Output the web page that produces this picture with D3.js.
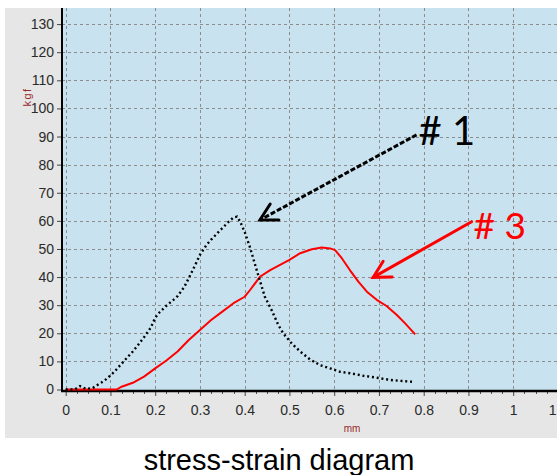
<!DOCTYPE html>
<html>
<head>
<meta charset="utf-8">
<script src="https://cdn.jsdelivr.net/npm/d3@7/dist/d3.min.js"></script>
<style>
  html, body { margin: 0; padding: 0; background: #ffffff; }
  svg { display: block; }
</style>
</head>
<body>
<div id="chart"></div>
<script>
// ---------- data ----------
const xTickValues = [0, 0.1, 0.2, 0.3, 0.4, 0.5, 0.6, 0.7, 0.8, 0.9, 1, 1.1];
const xTickLabels = ["0", "0.1", "0.2", "0.3", "0.4", "0.5", "0.6", "0.7", "0.8", "0.9", "1", "1.1"];
const yTickValues = [0, 10, 20, 30, 40, 50, 60, 70, 80, 90, 100, 110, 120, 130];
const yTickLabels = ["0", "10", "20", "30", "40", "50", "60", "70", "80", "90", "100", "110", "120", "130"];

// specimen #1 (black, dotted): strain (mm) and load (kgf)
const s1Strain = [0, 0.02, 0.032, 0.045, 0.06, 0.07, 0.08, 0.09, 0.1, 0.11, 0.125, 0.14, 0.15, 0.165, 0.175, 0.19, 0.2, 0.21, 0.225, 0.24, 0.25, 0.265, 0.275, 0.29, 0.3, 0.315, 0.325, 0.34, 0.35, 0.365, 0.375, 0.383, 0.39, 0.401, 0.412, 0.423, 0.434, 0.445, 0.46, 0.475, 0.486, 0.505, 0.524, 0.546, 0.568, 0.591, 0.613, 0.635, 0.665, 0.695, 0.725, 0.754, 0.777];
const s1Load   = [0, 0, 1.2, 0.2, 0.5, 1.5, 2.5, 3.6, 5, 6.5, 9.2, 11.8, 13.5, 16.5, 18.6, 22, 25.5, 27.5, 29.8, 31.8, 33.2, 36.5, 39.6, 44.5, 47.9, 51.5, 53.3, 55.8, 57.4, 59.8, 61.2, 61.5, 59.7, 55.6, 50.5, 44.5, 38.7, 33, 28.3, 23, 20, 16.4, 13.5, 10.7, 8.7, 7.5, 6.3, 5.8, 4.9, 4.2, 3.4, 3, 2.7];

// specimen #3 (red, solid)
const s3Strain = [0, 0.05, 0.114, 0.125, 0.15, 0.175, 0.2, 0.225, 0.25, 0.275, 0.3, 0.325, 0.35, 0.375, 0.4, 0.412, 0.434, 0.457, 0.479, 0.5, 0.524, 0.55, 0.572, 0.591, 0.602, 0.617, 0.635, 0.654, 0.673, 0.695, 0.717, 0.74, 0.758, 0.781];
const s3Load   = [0, 0, 0, 1, 2.4, 4.6, 7.5, 10.3, 13.5, 17.6, 21.2, 24.7, 27.7, 30.7, 33, 35.4, 40.1, 42.5, 44.3, 46.1, 48.5, 49.9, 50.5, 50.2, 49.6, 46.7, 42.5, 38.4, 34.8, 31.9, 29.7, 26.5, 23.6, 19.6];

// annotation callouts: label, tail point and arrow tip in data units
const noteLabels = ["# 1", "# 3"];
const noteTail = [[0.784, 90.6], [0.907, 59.7]];
const noteTip  = [[0.434, 60.3], [0.687, 39.9]];

// ---------- layout ----------
const W = 557, H = 475;
const plotL = 62, plotT = 8, plotR = 557, plotB = 391;

const x = d3.scaleLinear().domain([0, 1]).range([65.7, 513.2]);
const y = d3.scaleLinear().domain([0, 130]).range([389.5, 24.1]);

const tickFont = "'Liberation Sans Narrow', 'Arial Narrow', 'Liberation Sans', Arial, sans-serif";

const svg = d3.select("#chart").append("svg")
  .attr("width", W).attr("height", H)
  .attr("viewBox", `0 0 ${W} ${H}`);

svg.append("rect").attr("x", 0).attr("y", 0).attr("width", W).attr("height", H).attr("fill", "#ffffff");
svg.append("rect").attr("x", 5).attr("y", 8).attr("width", W - 5).attr("height", 430).attr("fill", "#e6e6e6");
svg.append("rect").attr("x", plotL).attr("y", plotT).attr("width", plotR - plotL).attr("height", plotB - plotT).attr("fill", "#c8e3ef");

svg.append("defs").append("clipPath").attr("id", "clip")
  .append("rect").attr("x", plotL).attr("y", plotT).attr("width", plotR - plotL).attr("height", plotB - plotT);

// grid
const grid = svg.append("g").attr("stroke", "#8c8c8c").attr("stroke-width", 1).attr("stroke-dasharray", "3,3");
grid.selectAll("line.v").data(xTickValues).join("line")
  .attr("x1", d => Math.round(x(d)) + 0.5).attr("x2", d => Math.round(x(d)) + 0.5)
  .attr("y1", plotT).attr("y2", plotB);
grid.selectAll("line.h").data(yTickValues).join("line")
  .attr("x1", plotL).attr("x2", plotR)
  .attr("y1", d => Math.round(y(d)) + 0.5).attr("y2", d => Math.round(y(d)) + 0.5);

// x axis
const minorX = d3.range(0, 45).map(i => i * 0.025).filter(v => Math.abs(v * 10 - Math.round(v * 10)) > 1e-6);
const xAxis = d3.axisBottom(x).tickValues(xTickValues)
  .tickFormat((d, i) => xTickLabels[i]).tickSize(5).tickPadding(9);
const gx = svg.append("g").attr("transform", `translate(0,${plotB})`).call(xAxis);
gx.select(".domain").remove();
gx.selectAll(".tick line").attr("stroke", "#444");
gx.selectAll(".tick text").attr("font-family", tickFont).attr("font-size", 14).attr("fill", "#2a2a2a");
svg.append("g").selectAll("line").data(minorX).join("line")
  .attr("x1", d => Math.round(x(d)) + 0.5).attr("x2", d => Math.round(x(d)) + 0.5)
  .attr("y1", plotB).attr("y2", plotB + 3).attr("stroke", "#555");

// y axis
const yAxis = d3.axisLeft(y).tickValues(yTickValues)
  .tickFormat((d, i) => yTickLabels[i]).tickSize(5).tickPadding(3);
const gy = svg.append("g").attr("transform", `translate(${plotL},0)`).call(yAxis);
gy.select(".domain").remove();
gy.selectAll(".tick line").attr("stroke", "#444");
gy.selectAll(".tick text").attr("font-family", tickFont).attr("font-size", 14).attr("fill", "#2a2a2a");

// axis lines
svg.append("line").attr("x1", plotL).attr("x2", plotL).attr("y1", plotT).attr("y2", plotB + 1)
  .attr("stroke", "#000").attr("stroke-width", 2);
svg.append("line").attr("x1", plotL - 1).attr("x2", plotR).attr("y1", plotB).attr("y2", plotB)
  .attr("stroke", "#000").attr("stroke-width", 2.5);

// axis titles
svg.append("text").attr("x", 352).attr("y", 432).attr("text-anchor", "middle")
  .attr("font-family", "'Liberation Sans', Arial, sans-serif").attr("font-size", 10).attr("fill", "#9a2a2a").text("mm");
svg.append("text").attr("transform", "translate(31,97) rotate(-90)").attr("text-anchor", "middle")
  .attr("font-family", "'Liberation Sans', Arial, sans-serif").attr("font-size", 11).attr("letter-spacing", 1.5)
  .attr("fill", "#9a2a2a").text("kgf");

// series
const line = d3.line().x(d => x(d[0])).y(d => y(d[1]));
const plot = svg.append("g").attr("clip-path", "url(#clip)");
plot.append("path").datum(s3Strain.map((v, i) => [v, s3Load[i]]))
  .attr("d", line).attr("fill", "none").attr("stroke", "#ff0000").attr("stroke-width", 2)
  .attr("stroke-linejoin", "round");
plot.append("path").datum(s1Strain.map((v, i) => [v, s1Load[i]]))
  .attr("d", line).attr("fill", "none").attr("stroke", "#000").attr("stroke-width", 2.4)
  .attr("stroke-dasharray", "2,2.8");

// annotations
const noteColor = ["#000000", "#ff0000"];
const noteDash = ["5,2", null];
const noteSize = [40, 37];
noteLabels.forEach((lab, i) => {
  const [tx, ty] = [x(noteTail[i][0]), y(noteTail[i][1])];
  const [hx, hy] = [x(noteTip[i][0]), y(noteTip[i][1])];
  const g = svg.append("g").attr("stroke", noteColor[i]).attr("stroke-width", 3).attr("fill", "none")
    .attr("stroke-linecap", "round");
  g.append("line").attr("x1", tx).attr("y1", ty).attr("x2", hx).attr("y2", hy)
    .attr("stroke-dasharray", noteDash[i]).attr("stroke-linecap", noteDash[i] ? "butt" : "round");
  const ang = Math.atan2(ty - hy, tx - hx);
  const L = 19, spread = 0.5;
  g.append("path").attr("stroke-linejoin", "miter")
    .attr("d", `M${hx + L * Math.cos(ang - spread)},${hy + L * Math.sin(ang - spread)}L${hx},${hy}L${hx + L * Math.cos(ang + spread)},${hy + L * Math.sin(ang + spread)}`);
  svg.append("text").attr("x", tx + 2).attr("y", ty + 10 + (i === 0 ? 0 : 7))
    .attr("font-family", "Lato, 'Liberation Sans', sans-serif").attr("font-size", noteSize[i])
    .attr("fill", noteColor[i]).text(lab);
});

// caption
svg.append("text").attr("x", 279).attr("y", 470).attr("text-anchor", "middle")
  .attr("font-family", "'Liberation Sans', Arial, sans-serif").attr("font-size", 29).attr("fill", "#000")
  .text("stress-strain diagram");
</script>
</body>
</html>
